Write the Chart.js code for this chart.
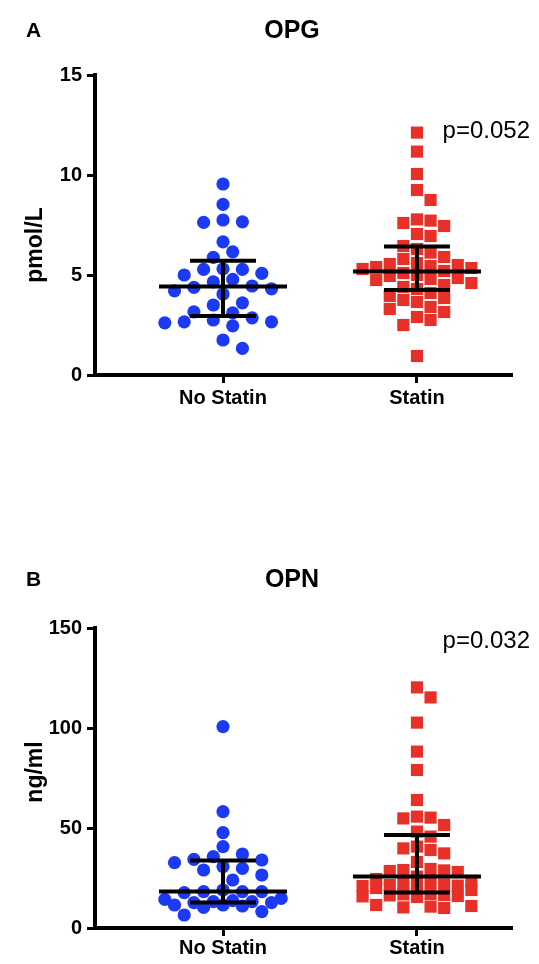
<!DOCTYPE html>
<html>
<head>
<meta charset="utf-8">
<title>OPG / OPN</title>
<script src="https://cdn.jsdelivr.net/npm/chart.js@4.4.1/dist/chart.umd.min.js"></script>
<style>
body { margin: 0; background: #fff; }
.panel { position: absolute; left: 0; width: 539px; height: 482px; }
</style>
</head>
<body>
<div class="panel" style="top:0"><canvas id="canvas_opg" width="539" height="482"></canvas></div>
<div class="panel" style="top:482px"><canvas id="canvas_opn" width="539" height="482"></canvas></div>
<script>
// x axis groups
var groups = [ "No Statin", "Statin" ];

// A - OPG, pmol/L
var opgNoStatin = [ 9.55, 8.53, 7.75, 7.66, 7.63, 6.66, 6.16, 5.88, 5.31, 5.28, 5.28,
		5.08, 5.0, 4.78, 4.66, 4.45, 4.38, 4.31, 4.21, 4.05, 3.61, 3.5, 3.16, 3.11,
		2.86, 2.75, 2.66, 2.66, 2.61, 2.46, 1.75, 1.33 ];
var opgStatin = [ 12.12, 11.17, 10.05, 9.25, 8.75, 7.78, 7.72, 7.6, 7.45, 7.05, 6.95,
		6.45, 6.3, 6.12, 5.9, 5.8, 5.6, 5.55, 5.5, 5.45, 5.4, 5.35, 5.3, 5.2,
		5.1, 5.0, 4.95, 4.85, 4.8, 4.75, 4.6, 4.5, 4.4, 4.3, 4.1, 3.95, 3.85,
		3.75, 3.65, 3.4, 3.3, 3.15, 2.9, 2.75, 2.5, 0.95 ];
// [Q1, median, Q3] per group
var opgStats = [ [ 2.95, 4.43, 5.71 ], [ 4.25, 5.18, 6.42 ] ];
var opgTicks = [ 0, 5, 10, 15 ];

// B - OPN, ng/ml
var opnNoStatin = [ 100.7, 58.2, 47.7, 40.7, 37, 35.7, 34.3, 34, 32.7, 30.7, 29.8, 29,
		26.5, 24, 19, 18.2, 18.2, 18.2, 17.7, 14.8, 14.3, 13.7, 13.2, 13.2, 12.7,
		12.7, 11.5, 11.5, 11, 10.3, 8.2, 6.5 ];
var opnStatin = [ 120.3, 115.3, 102.7, 88.2, 79, 64, 55.7, 55.2, 54.8, 51.5, 48.2,
		45.7, 40.7, 39.8, 39, 37.3, 33, 29.5, 29, 28.8, 28.5, 28, 25.7, 24.5,
		23.5, 22.8, 22, 21.8, 21.5, 21.2, 21, 20.5, 20, 19, 17, 16.8, 16.5,
		16.3, 16, 15.8, 15.5, 11.5, 11, 10.7, 10.3, 10 ];
var opnStats = [ [ 12.8, 18.2, 33.7 ], [ 17.8, 25.7, 46.5 ] ];
var opnTicks = [ 0, 50, 100, 150 ];

var FONT = "'Liberation Sans', Arial, Helvetica, sans-serif";
Chart.defaults.font.family = FONT;
Chart.defaults.color = "#000";

// median + interquartile range bars
var medianIqr = {
	id : "medianIqr",
	afterDatasetsDraw : function(chart, args, opts) {
		var xs = chart.scales.x, ys = chart.scales.y, ctx = chart.ctx;
		ctx.save();
		ctx.strokeStyle = "#000";
		ctx.lineWidth = 4;
		opts.stats.forEach(function(s, i) {
			var c = i + 1;
			var yQ1 = ys.getPixelForValue(s[0]);
			var yMed = ys.getPixelForValue(s[1]);
			var yQ3 = ys.getPixelForValue(s[2]);
			ctx.beginPath();
			ctx.moveTo(xs.getPixelForValue(c - 0.33), yMed);
			ctx.lineTo(xs.getPixelForValue(c + 0.33), yMed);
			ctx.moveTo(xs.getPixelForValue(c - 0.17), yQ1);
			ctx.lineTo(xs.getPixelForValue(c + 0.17), yQ1);
			ctx.moveTo(xs.getPixelForValue(c - 0.17), yQ3);
			ctx.lineTo(xs.getPixelForValue(c + 0.17), yQ3);
			ctx.moveTo(xs.getPixelForValue(c), yQ1);
			ctx.lineTo(xs.getPixelForValue(c), yQ3);
			ctx.stroke();
		});
		ctx.restore();
	}
};

// panel letter, title, p value, y title
var labels = {
	id : "labels",
	afterDraw : function(chart, args, o) {
		var ctx = chart.ctx;
		ctx.save();
		ctx.fillStyle = "#000";
		ctx.textBaseline = "middle";
		ctx.textAlign = "left";
		ctx.font = "bold 21px " + FONT;
		ctx.fillText(o.letter, 26, o.titleY);
		ctx.textAlign = "center";
		ctx.font = "bold 25px " + FONT;
		ctx.fillText(o.title, 292, o.titleY);
		ctx.textAlign = "right";
		ctx.font = "24px " + FONT;
		ctx.fillText(o.p, 530, o.pY);
		ctx.translate(36, o.axisY);
		ctx.rotate(-Math.PI / 2);
		ctx.textAlign = "center";
		ctx.font = "bold 23px " + FONT;
		ctx.fillText(o.axisTitle, 0, 0);
		ctx.restore();
	}
};

// spread points sideways (beeswarm); past maxSpread let them overlap
function swarm(chart) {
	var xs = chart.scales.x, ys = chart.scales.y;
	chart.data.datasets.forEach(function(ds, i) {
		var cx = xs.getPixelForValue(i + 1);
		var placed = [];
		var order = ds.data.map(function(p, k) {
			return k;
		}).sort(function(a, b) {
			return ds.data[b].y - ds.data[a].y;
		});
		var nMax = 2 * Math.floor(ds.maxSpread / ds.swarmStep);
		order.forEach(function(k) {
			var py = ys.getPixelForValue(ds.data[k].y);
			var best = cx, bestGap = -1;
			for (var n = 0; n <= nMax; n++) {
				var px = cx + (n % 2 ? 1 : -1) * Math.ceil(n / 2) * ds.swarmStep;
				var gap = Infinity;
				placed.forEach(function(q) {
					var dx = Math.abs(q[0] - px), dy = Math.abs(q[1] - py);
					var d = ds.pointStyle === "rect" ? Math.max(dx, dy) : Math.sqrt(dx * dx + dy * dy);
					gap = Math.min(gap, d);
				});
				if (gap >= ds.swarmSize) {
					best = px;
					break;
				}
				if (gap > bestGap + 0.5) {
					bestGap = gap;
					best = px;
				}
			}
			placed.push([ best, py ]);
			ds.data[k].x = xs.getValueForPixel(best);
		});
	});
	chart.update("none");
}

function axisStyle() {
	return {
		grid : {
			drawOnChartArea : false,
			drawTicks : true,
			tickLength : 8,
			tickWidth : 3,
			tickColor : "#000"
		},
		border : {
			display : true,
			color : "#000",
			width : 4
		}
	};
}

function makeChart(canvasId, noStatin, statin, stats, ticks, max, text) {
	var xAxis = axisStyle(), yAxis = axisStyle();
	xAxis.type = "linear";
	xAxis.min = 0.34;
	xAxis.max = 2.49;
	xAxis.afterBuildTicks = function(scale) {
		scale.ticks = [ { value : 1 }, { value : 2 } ];
	};
	xAxis.afterFit = function(scale) {
		scale.height = text.xHeight;
	};
	xAxis.ticks = {
		autoSkip : false,
		maxRotation : 0,
		padding : text.xPad,
		font : { size : 20, weight : "bold" },
		callback : function(v) {
			return groups[v - 1];
		}
	};
	yAxis.min = 0;
	yAxis.max = max;
	yAxis.afterBuildTicks = function(scale) {
		scale.ticks = ticks.map(function(v) {
			return { value : v };
		});
	};
	yAxis.afterFit = function(scale) {
		scale.width = 95;
	};
	yAxis.ticks = {
		padding : 5,
		font : { size : 20, weight : "bold" },
		callback : function(v) {
			return String(v);
		}
	};

	var chart = new Chart(document.getElementById(canvasId), {
		type : "scatter",
		data : {
			datasets : [ {
				label : groups[0],
				data : noStatin.map(function(v) {
					return { x : 1, y : v };
				}),
				pointStyle : "circle",
				pointRadius : 6.6,
				pointHoverRadius : 6.6,
				pointBorderWidth : 0,
				backgroundColor : "rgb(28,58,246)",
				swarmStep : 9.7,
				swarmSize : 13.5,
				maxSpread : 60
			}, {
				label : groups[1],
				data : statin.map(function(v) {
					return { x : 2, y : v };
				}),
				pointStyle : "rect",
				pointRadius : 8.6,
				pointHoverRadius : 8.6,
				pointBorderWidth : 0,
				backgroundColor : "rgb(230,48,40)",
				swarmStep : 6.8,
				swarmSize : 12.5,
				maxSpread : 60
			} ]
		},
		options : {
			responsive : false,
			animation : false,
			devicePixelRatio : 1,
			clip : false,
			layout : {
				padding : { top : text.top, right : 27, left : 0, bottom : 0 }
			},
			scales : { x : xAxis, y : yAxis },
			plugins : {
				legend : { display : false },
				tooltip : { enabled : false },
				medianIqr : { stats : stats },
				labels : text
			}
		},
		plugins : [ medianIqr, labels ]
	});
	swarm(chart);
	return chart;
}

makeChart("canvas_opg", opgNoStatin, opgStatin, opgStats, opgTicks, 15, {
	top : 75, xHeight : 107, xPad : 3,
	letter : "A", title : "OPG", titleY : 31,
	p : "p=0.052", pY : 131,
	axisTitle : "pmol/L", axisY : 245
});
makeChart("canvas_opn", opnNoStatin, opnStatin, opnStats, opnTicks, 150, {
	top : 146, xHeight : 36, xPad : 0,
	letter : "B", title : "OPN", titleY : 98,
	p : "p=0.032", pY : 159,
	axisTitle : "ng/ml", axisY : 290
});
</script>
</body>
</html>
